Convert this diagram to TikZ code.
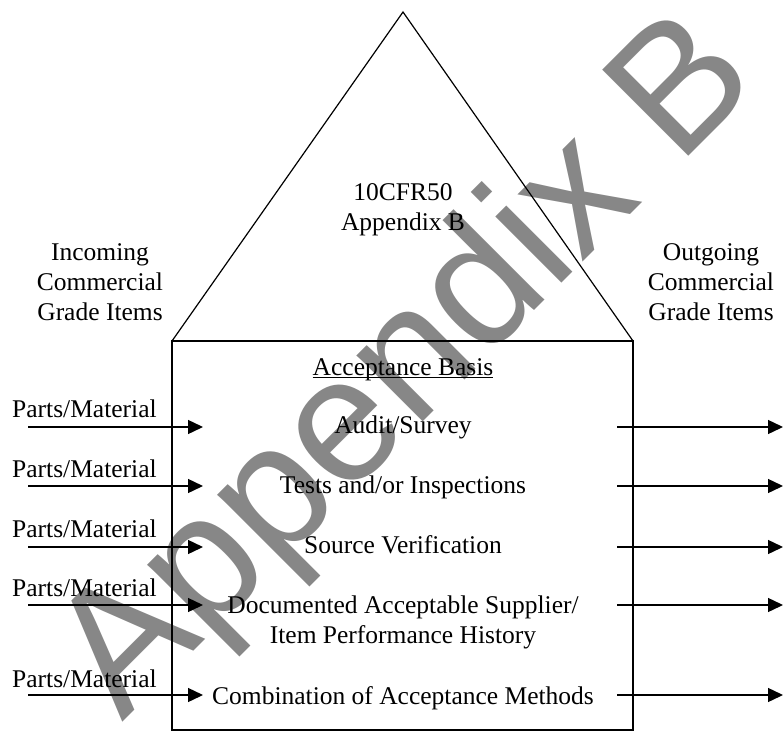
\documentclass[tikz,border=0pt]{standalone}
\usepackage{fontspec}
\setmainfont{Liberation Serif}
\newfontfamily\markfont{Liberation Sans}
\usetikzlibrary{arrows.meta}
\definecolor{markgray}{RGB}{135,135,135}
\begin{document}
\begin{tikzpicture}[x=1bp,y=-1bp,
  txt/.style={inner sep=0pt, font=\fontsize{25.5bp}{30bp}\selectfont},
  outline/.style={line width=1.2bp, line join=miter},
  flow/.style={line width=1.4bp, -{Triangle[length=15bp,width=14bp]}}]
\useasboundingbox (0,0) rectangle (784,733);

% diagonal watermark
\node[anchor=base west, inner sep=0pt, rotate=45, text=markgray,
      font=\markfont\fontsize{177bp}{177bp}\selectfont] (wm) at (122,723) {Appendix B};

% house outline: roof and body
\coordinate (apex) at (403,12);
\coordinate (roofL) at (172,341);
\coordinate (roofR) at (633,341);
\coordinate (footR) at (633,730);
\draw[outline] (roofL) -- (apex) -- (roofR);
\draw[outline] (roofL) rectangle (footR);

% roof text
\node[txt, anchor=base] (cfr) at (403,200) {10CFR50};
\node[txt, anchor=base] (appb) at (403,230) {Appendix B};

% side headings
\node[txt, anchor=base] (inA) at (100,260) {Incoming};
\node[txt, anchor=base] (inB) at (100,290) {Commercial};
\node[txt, anchor=base] (inC) at (100,320) {Grade Items};
\node[txt, anchor=base] (outA) at (711,260) {Outgoing};
\node[txt, anchor=base] (outB) at (711,290) {Commercial};
\node[txt, anchor=base] (outC) at (711,320) {Grade Items};

% body text
\node[txt, anchor=base] (basis) at (403,375) {Acceptance Basis};
\draw[line width=0.9bp] ([yshift=-2.5bp]basis.base west) -- ([yshift=-2.5bp]basis.base east);
\node[txt, anchor=base] (m1) at (403,433) {Audit/Survey};
\node[txt, anchor=base] (m2) at (403,493) {Tests and/or Inspections};
\node[txt, anchor=base] (m3) at (403,553) {Source Verification};
\node[txt, anchor=base] (m4a) at (403,613) {Documented Acceptable Supplier/};
\node[txt, anchor=base] (m4b) at (403,643) {Item Performance History};
\node[txt, anchor=base] (m5) at (403,704) {Combination of Acceptance Methods};

% incoming labels and arrows, outgoing arrows
\foreach \i/\ya/\yb in {1/417/427, 2/477/486, 3/537/547, 4/596/605, 5/687/695} {
  \node[txt, anchor=base west] (pm\i) at (12,\ya) {Parts/Material};
  \coordinate (inS\i) at (28,\yb);
  \coordinate (inE\i) at (203,\yb);
  \coordinate (outS\i) at (617,\yb);
  \coordinate (outE\i) at (783,\yb);
  \draw[flow] (inS\i) -- (inE\i);
  \draw[flow] (outS\i) -- (outE\i);
}
\end{tikzpicture}
\end{document}
